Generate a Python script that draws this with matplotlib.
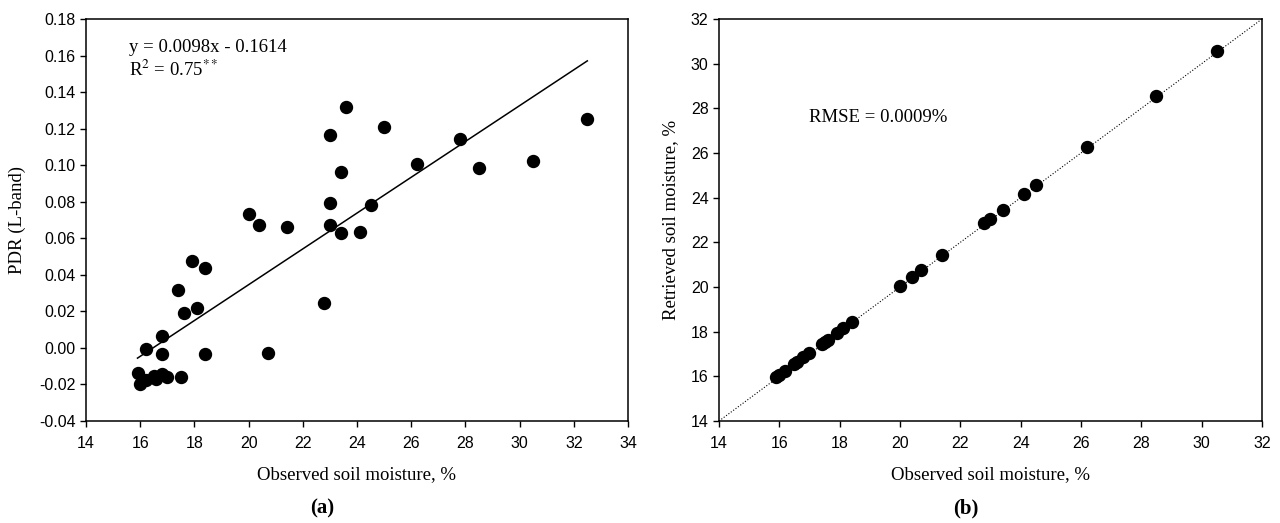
import numpy as np
import matplotlib
matplotlib.use("Agg")
import matplotlib.pyplot as plt

# panel (a): observed soil moisture vs PDR
obs_a = [15.9, 16.0, 16.2, 16.5, 16.6, 16.8, 17.0, 17.5, 16.2, 16.8, 16.8, 17.4,
         17.6, 17.9, 18.1, 18.4, 18.4, 20.0, 20.4, 20.7, 21.4, 22.8, 23.0, 23.0,
         23.0, 23.4, 23.4, 23.6, 24.1, 24.5, 25.0, 26.2, 27.8, 28.5, 30.5, 32.5]
pdr = [-0.0135, -0.020, -0.0175, -0.0155, -0.017, -0.014, -0.016, -0.016, -0.0005,
       -0.0035, 0.0065, 0.0315, 0.019, 0.0475, 0.022, 0.0435, -0.0035, 0.0735,
       0.0675, -0.003, 0.066, 0.0245, 0.1165, 0.0795, 0.0675, 0.0965, 0.063,
       0.132, 0.0635, 0.078, 0.121, 0.1005, 0.1145, 0.0985, 0.1025, 0.1255]
slope, intercept = 0.0098, -0.1614

# panel (b): observed vs retrieved soil moisture
obs_b = [15.9, 16.0, 16.2, 16.5, 16.6, 16.8, 17.0, 17.4, 17.5, 17.6, 17.9, 18.1,
         18.4, 20.0, 20.4, 20.7, 21.4, 22.8, 23.0, 23.4, 24.1, 24.5, 26.2, 28.5, 30.5]
ret_b = [15.95, 16.05, 16.25, 16.55, 16.65, 16.85, 17.05, 17.45, 17.55, 17.65, 17.95, 18.15,
         18.45, 20.05, 20.45, 20.75, 21.45, 22.85, 23.05, 23.45, 24.15, 24.55, 26.25, 28.55, 30.55]

tick_font = "Liberation Sans"
serif = "Liberation Serif"
plt.rcParams["mathtext.fontset"] = "stix"

fig = plt.figure(figsize=(12.8, 5.23), dpi=100)
ax1 = fig.add_axes([0.0672, 0.195, 0.4234, 0.7686])
ax2 = fig.add_axes([0.5617, 0.195, 0.4242, 0.7686])

# (a)
ax1.scatter(obs_a, pdr, s=74, c="black", zorder=3)
xl = np.array([min(obs_a), max(obs_a)])
ax1.plot(xl, slope * xl + intercept, c="black", lw=1.1)
ax1.set_xlim(14, 34)
ax1.set_ylim(-0.04, 0.18)
ax1.set_xticks(np.arange(14, 35, 2))
yt = np.arange(-0.04, 0.181, 0.02)
ax1.set_yticks(yt)
ax1.set_yticklabels(["%.2f" % v for v in yt])
ax1.set_xlabel("Observed soil moisture, %", family=serif, fontsize=13.5, va="center")
ax1.set_ylabel("PDR (L-band)", family=serif, fontsize=13.5, va="center")
ax1.xaxis.set_label_coords(0.5, -0.134)
ax1.yaxis.set_label_coords(-0.126, 0.5)
ax1.text(0.079, 0.928, "y = 0.0098x - 0.1614", transform=ax1.transAxes,
         family=serif, fontsize=13.5, va="center")
ax1.text(0.079, 0.873, r"R$^{2}$ = 0.75$^{**}$", transform=ax1.transAxes,
         family=serif, fontsize=13.5, va="center")
fig.text(322 / 1280, 1 - 508 / 523, "(a)", family=serif, fontsize=15,
         fontweight="bold", ha="center", va="center")

# (b)
ax2.plot([14, 32], [14, 32], c="black", ls=":", lw=0.8)
ax2.scatter(obs_b, ret_b, s=74, c="black", zorder=3)
ax2.set_xlim(14, 32)
ax2.set_ylim(14, 32)
ax2.set_xticks(np.arange(14, 33, 2))
ax2.set_yticks(np.arange(14, 33, 2))
ax2.set_xlabel("Observed soil moisture, %", family=serif, fontsize=13.5, va="center")
ax2.set_ylabel("Retrieved soil moisture, %", family=serif, fontsize=13.5, va="center")
ax2.xaxis.set_label_coords(0.5, -0.134)
ax2.yaxis.set_label_coords(-0.090, 0.5)
ax2.text(16.98, 27.6, "RMSE = 0.0009%", family=serif, fontsize=13.5, va="center")
fig.text(966 / 1280, 1 - 508 / 523, "(b)", family=serif, fontsize=15,
         fontweight="bold", ha="center", va="center")

for ax in (ax1, ax2):
    ax.tick_params(axis="x", direction="out", length=4.5, width=1, pad=6,
                   labelsize=11.5, top=False)
    ax.tick_params(axis="y", direction="out", length=4.5, width=1, pad=3,
                   labelsize=11.5, right=False)
    for lab in ax.get_xticklabels() + ax.get_yticklabels():
        lab.set_family(tick_font)
    for sp in ax.spines.values():
        sp.set_linewidth(1.1)

fig.savefig("out.png", dpi=100)
